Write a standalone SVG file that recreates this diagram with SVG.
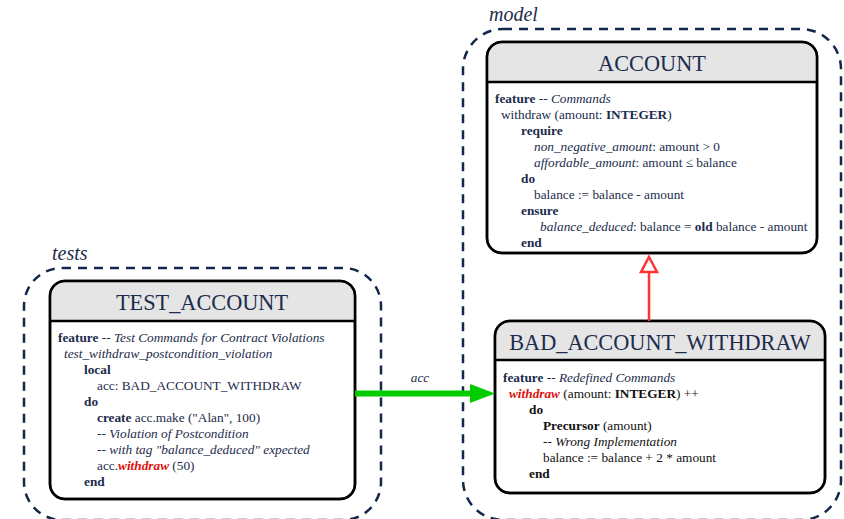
<svg xmlns="http://www.w3.org/2000/svg" width="844" height="519" viewBox="0 0 844 519" font-family="'Liberation Serif', 'Times New Roman', serif">
<defs>
<style>
.cluster{fill:none;stroke:#12284a;stroke-width:2.5;stroke-dasharray:9 7}
.clabel{font-style:italic;font-size:20px;fill:#1c2c4c}
.box{fill:#ffffff;stroke:#000000;stroke-width:2.5}
.hdr{fill:#e5e5e5}
.sep{stroke:#000000;stroke-width:2.5}
.title{font-size:22.3px;fill:#1c2c4c;text-anchor:middle}
.t{font-size:13.3px;fill:#1c2c4c}
.k{font-weight:bold}
.i{font-style:italic}
.r{fill:#dd1111;font-weight:bold;font-style:italic}
.blk{fill:#111111}
</style>
</defs>
<rect width="844" height="519" fill="#ffffff"/>

<g id="cluster-model">
<rect class="cluster" x="463" y="29" width="378" height="491" rx="40" ry="40"/>
<text class="clabel" x="489" y="21">model</text>
</g>
<g id="cluster-tests">
<rect class="cluster" x="24" y="268" width="357" height="252" rx="38" ry="38"/>
<text class="clabel" x="52" y="260">tests</text>
</g>

<g id="node-account">
<rect class="box" x="487" y="42" width="330" height="211" rx="15" ry="15"/>
<path class="hdr" d="M502 43.3 H802 A13.7 13.7 0 0 1 815.7 57 V81 H488.3 V57 A13.7 13.7 0 0 1 502 43.3 Z"/>
<line class="sep" x1="487" y1="82" x2="817" y2="82"/>
<rect class="box" x="487" y="42" width="330" height="211" rx="15" ry="15" style="fill:none"/>
<text class="title" x="652" y="71">ACCOUNT</text>
<text class="t" x="495" y="103"><tspan class="k">feature</tspan> -- <tspan class="i">Commands</tspan></text>
<text class="t" x="501" y="119">withdraw (amount: <tspan class="k">INTEGER</tspan>)</text>
<text class="t k" x="521" y="135">require</text>
<text class="t" x="534" y="151"><tspan class="i">non_negative_amount</tspan>: amount &gt; 0</text>
<text class="t" x="534" y="167"><tspan class="i">affordable_amount</tspan>: amount ≤ balance</text>
<text class="t k" x="521" y="183">do</text>
<text class="t" x="534" y="199">balance := balance - amount</text>
<text class="t k" x="521" y="215">ensure</text>
<text class="t" x="540" y="231"><tspan class="i">balance_deduced</tspan>: balance = <tspan class="k">old</tspan> balance - amount</text>
<text class="t k" x="521" y="247">end</text>
</g>

<g id="node-test-account">
<rect class="box" x="50" y="281" width="305" height="218" rx="15" ry="15"/>
<path class="hdr" d="M65 282.3 H340 A13.7 13.7 0 0 1 353.7 296 V320 H51.3 V296 A13.7 13.7 0 0 1 65 282.3 Z"/>
<line class="sep" x1="50" y1="321" x2="355" y2="321"/>
<rect class="box" x="50" y="281" width="305" height="218" rx="15" ry="15" style="fill:none"/>
<text class="title" x="202" y="310">TEST_ACCOUNT</text>
<text class="t" x="58" y="342"><tspan class="k">feature</tspan> -- <tspan class="i">Test Commands for Contract Violations</tspan></text>
<text class="t i" x="64" y="358">test_withdraw_postcondition_violation</text>
<text class="t k" x="84" y="374">local</text>
<text class="t" x="97" y="390">acc: BAD_ACCOUNT_WITHDRAW</text>
<text class="t k" x="84" y="406">do</text>
<text class="t" x="97" y="422"><tspan class="k">create</tspan> acc.make ("Alan", 100)</text>
<text class="t" x="97" y="438">-- <tspan class="i">Violation of Postcondition</tspan></text>
<text class="t" x="97" y="454">-- <tspan class="i">with tag "balance_deduced" expected</tspan></text>
<text class="t" x="97" y="470">acc.<tspan class="r">withdraw</tspan> (50)</text>
<text class="t k" x="84" y="486">end</text>
</g>

<g id="node-bad-account-withdraw">
<rect class="box" x="495" y="321" width="330" height="172" rx="15" ry="15"/>
<path class="hdr" d="M510 322.3 H810 A13.7 13.7 0 0 1 823.7 336 V359 H496.3 V336 A13.7 13.7 0 0 1 510 322.3 Z"/>
<line class="sep" x1="495" y1="360" x2="825" y2="360"/>
<rect class="box" x="495" y="321" width="330" height="172" rx="15" ry="15" style="fill:none"/>
<text class="title" x="660" y="350">BAD_ACCOUNT_WITHDRAW</text>
<text class="t" x="503" y="382"><tspan class="k">feature</tspan> -- <tspan class="i">Redefined Commands</tspan></text>
<text class="t blk" x="509" y="398"><tspan class="r">withdraw</tspan> (amount: <tspan class="k">INTEGER</tspan>) ++</text>
<text class="t k blk" x="529" y="414">do</text>
<text class="t blk" x="543" y="430"><tspan class="k">Precursor</tspan> (amount)</text>
<text class="t blk" x="543" y="446">-- <tspan class="i">Wrong Implementation</tspan></text>
<text class="t blk" x="543" y="462">balance := balance + 2 * amount</text>
<text class="t k blk" x="529" y="478">end</text>
</g>

<g id="connectors">
<g id="edge-acc">
<line x1="355" y1="393.5" x2="472" y2="393.5" stroke="#00cc00" stroke-width="6"/>
<polygon points="470,384 495,393.5 470,403" fill="#00cc00"/>
<text class="t i" x="420" y="382" text-anchor="middle">acc</text>
</g>
<g id="edge-inherit">
<line x1="649" y1="321" x2="649" y2="272" stroke="#ff3333" stroke-width="2.5"/>
<polygon points="649,257 657,272 641,272" fill="#ffffff" stroke="#ff3333" stroke-width="2.5"/>
</g>
</g>
</svg>
